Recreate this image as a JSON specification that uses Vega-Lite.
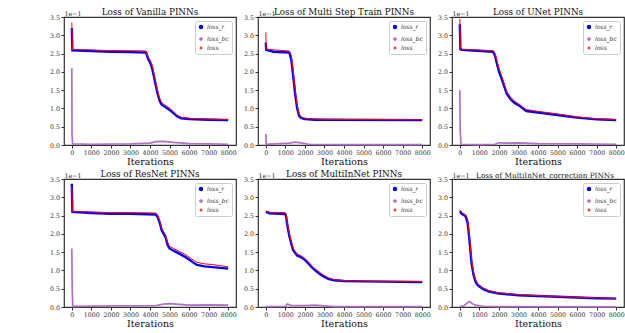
{
  "$schema": "https://vega.github.io/schema/vega-lite/v6.json",
  "padding": {"left": 47, "top": 7, "right": 0, "bottom": 0},
  "background": "white",
  "datasets": {
    "vanilla": [
      {"it": 0, "s": "loss_r", "v": 3.2}, {"it": 30, "s": "loss_r", "v": 2.59}, {"it": 1000, "s": "loss_r", "v": 2.57}, {"it": 2000, "s": "loss_r", "v": 2.55}, {"it": 3000, "s": "loss_r", "v": 2.54}, {"it": 3800, "s": "loss_r", "v": 2.53}, {"it": 3900, "s": "loss_r", "v": 2.36}, {"it": 4000, "s": "loss_r", "v": 2.26}, {"it": 4100, "s": "loss_r", "v": 2.12}, {"it": 4200, "s": "loss_r", "v": 1.88}, {"it": 4300, "s": "loss_r", "v": 1.62}, {"it": 4400, "s": "loss_r", "v": 1.38}, {"it": 4500, "s": "loss_r", "v": 1.2}, {"it": 4600, "s": "loss_r", "v": 1.1}, {"it": 4800, "s": "loss_r", "v": 1.03}, {"it": 5000, "s": "loss_r", "v": 0.96}, {"it": 5200, "s": "loss_r", "v": 0.87}, {"it": 5400, "s": "loss_r", "v": 0.78}, {"it": 5600, "s": "loss_r", "v": 0.73}, {"it": 6000, "s": "loss_r", "v": 0.71}, {"it": 7000, "s": "loss_r", "v": 0.69}, {"it": 8000, "s": "loss_r", "v": 0.68},
      {"it": 0, "s": "loss_bc", "v": 2.1}, {"it": 10, "s": "loss_bc", "v": 0.3}, {"it": 40, "s": "loss_bc", "v": 0.03}, {"it": 1000, "s": "loss_bc", "v": 0.02}, {"it": 3000, "s": "loss_bc", "v": 0.03}, {"it": 4000, "s": "loss_bc", "v": 0.05}, {"it": 4300, "s": "loss_bc", "v": 0.09}, {"it": 4700, "s": "loss_bc", "v": 0.1}, {"it": 5200, "s": "loss_bc", "v": 0.07}, {"it": 6000, "s": "loss_bc", "v": 0.04}, {"it": 7000, "s": "loss_bc", "v": 0.03}, {"it": 8000, "s": "loss_bc", "v": 0.02},
      {"it": 0, "s": "loss", "v": 3.35}, {"it": 30, "s": "loss", "v": 2.61}, {"it": 1000, "s": "loss", "v": 2.6}, {"it": 2000, "s": "loss", "v": 2.58}, {"it": 3000, "s": "loss", "v": 2.58}, {"it": 3800, "s": "loss", "v": 2.57}, {"it": 3900, "s": "loss", "v": 2.42}, {"it": 4000, "s": "loss", "v": 2.32}, {"it": 4100, "s": "loss", "v": 2.2}, {"it": 4200, "s": "loss", "v": 1.96}, {"it": 4300, "s": "loss", "v": 1.7}, {"it": 4400, "s": "loss", "v": 1.45}, {"it": 4500, "s": "loss", "v": 1.27}, {"it": 4600, "s": "loss", "v": 1.16}, {"it": 4800, "s": "loss", "v": 1.08}, {"it": 5000, "s": "loss", "v": 1.01}, {"it": 5200, "s": "loss", "v": 0.91}, {"it": 5400, "s": "loss", "v": 0.81}, {"it": 5600, "s": "loss", "v": 0.76}, {"it": 6000, "s": "loss", "v": 0.73}, {"it": 7000, "s": "loss", "v": 0.71}, {"it": 8000, "s": "loss", "v": 0.7}
    ],
    "multistep": [
      {"it": 0, "s": "loss_r", "v": 2.8}, {"it": 20, "s": "loss_r", "v": 2.6}, {"it": 400, "s": "loss_r", "v": 2.55}, {"it": 1200, "s": "loss_r", "v": 2.53}, {"it": 1300, "s": "loss_r", "v": 2.35}, {"it": 1400, "s": "loss_r", "v": 1.9}, {"it": 1500, "s": "loss_r", "v": 1.4}, {"it": 1600, "s": "loss_r", "v": 1.02}, {"it": 1700, "s": "loss_r", "v": 0.8}, {"it": 1800, "s": "loss_r", "v": 0.74}, {"it": 2000, "s": "loss_r", "v": 0.71}, {"it": 2500, "s": "loss_r", "v": 0.69}, {"it": 3000, "s": "loss_r", "v": 0.69}, {"it": 8000, "s": "loss_r", "v": 0.68},
      {"it": 0, "s": "loss_bc", "v": 0.3}, {"it": 20, "s": "loss_bc", "v": 0.02}, {"it": 500, "s": "loss_bc", "v": 0.03}, {"it": 1200, "s": "loss_bc", "v": 0.05}, {"it": 1500, "s": "loss_bc", "v": 0.08}, {"it": 1800, "s": "loss_bc", "v": 0.06}, {"it": 2200, "s": "loss_bc", "v": 0.02}, {"it": 4000, "s": "loss_bc", "v": 0.01}, {"it": 8000, "s": "loss_bc", "v": 0.01},
      {"it": 0, "s": "loss", "v": 3.08}, {"it": 20, "s": "loss", "v": 2.62}, {"it": 400, "s": "loss", "v": 2.6}, {"it": 1200, "s": "loss", "v": 2.57}, {"it": 1300, "s": "loss", "v": 2.45}, {"it": 1400, "s": "loss", "v": 2.02}, {"it": 1500, "s": "loss", "v": 1.52}, {"it": 1600, "s": "loss", "v": 1.1}, {"it": 1700, "s": "loss", "v": 0.86}, {"it": 1800, "s": "loss", "v": 0.77}, {"it": 2000, "s": "loss", "v": 0.73}, {"it": 2500, "s": "loss", "v": 0.71}, {"it": 3000, "s": "loss", "v": 0.7}, {"it": 8000, "s": "loss", "v": 0.69}
    ],
    "unet": [
      {"it": 0, "s": "loss_r", "v": 3.3}, {"it": 30, "s": "loss_r", "v": 2.62}, {"it": 100, "s": "loss_r", "v": 2.6}, {"it": 1700, "s": "loss_r", "v": 2.55}, {"it": 1800, "s": "loss_r", "v": 2.45}, {"it": 1900, "s": "loss_r", "v": 2.22}, {"it": 2000, "s": "loss_r", "v": 2.02}, {"it": 2200, "s": "loss_r", "v": 1.72}, {"it": 2400, "s": "loss_r", "v": 1.4}, {"it": 2600, "s": "loss_r", "v": 1.25}, {"it": 2800, "s": "loss_r", "v": 1.15}, {"it": 3000, "s": "loss_r", "v": 1.09}, {"it": 3200, "s": "loss_r", "v": 1.01}, {"it": 3400, "s": "loss_r", "v": 0.93}, {"it": 4000, "s": "loss_r", "v": 0.89}, {"it": 5000, "s": "loss_r", "v": 0.82}, {"it": 6000, "s": "loss_r", "v": 0.75}, {"it": 7000, "s": "loss_r", "v": 0.7}, {"it": 8000, "s": "loss_r", "v": 0.68},
      {"it": 0, "s": "loss_bc", "v": 1.5}, {"it": 20, "s": "loss_bc", "v": 0.4}, {"it": 60, "s": "loss_bc", "v": 0.02}, {"it": 1000, "s": "loss_bc", "v": 0.01}, {"it": 1800, "s": "loss_bc", "v": 0.02}, {"it": 2000, "s": "loss_bc", "v": 0.06}, {"it": 2500, "s": "loss_bc", "v": 0.05}, {"it": 3000, "s": "loss_bc", "v": 0.06}, {"it": 4000, "s": "loss_bc", "v": 0.04}, {"it": 6000, "s": "loss_bc", "v": 0.03}, {"it": 8000, "s": "loss_bc", "v": 0.02},
      {"it": 0, "s": "loss", "v": 3.45}, {"it": 30, "s": "loss", "v": 2.65}, {"it": 100, "s": "loss", "v": 2.62}, {"it": 1700, "s": "loss", "v": 2.58}, {"it": 1800, "s": "loss", "v": 2.5}, {"it": 1900, "s": "loss", "v": 2.3}, {"it": 2000, "s": "loss", "v": 2.1}, {"it": 2200, "s": "loss", "v": 1.8}, {"it": 2400, "s": "loss", "v": 1.46}, {"it": 2600, "s": "loss", "v": 1.3}, {"it": 2800, "s": "loss", "v": 1.2}, {"it": 3000, "s": "loss", "v": 1.13}, {"it": 3200, "s": "loss", "v": 1.05}, {"it": 3400, "s": "loss", "v": 0.97}, {"it": 4000, "s": "loss", "v": 0.92}, {"it": 5000, "s": "loss", "v": 0.85}, {"it": 6000, "s": "loss", "v": 0.77}, {"it": 7000, "s": "loss", "v": 0.72}, {"it": 8000, "s": "loss", "v": 0.7}
    ],
    "resnet": [
      {"it": 0, "s": "loss_r", "v": 3.37}, {"it": 30, "s": "loss_r", "v": 2.6}, {"it": 1000, "s": "loss_r", "v": 2.57}, {"it": 2000, "s": "loss_r", "v": 2.55}, {"it": 3000, "s": "loss_r", "v": 2.55}, {"it": 4300, "s": "loss_r", "v": 2.53}, {"it": 4400, "s": "loss_r", "v": 2.45}, {"it": 4500, "s": "loss_r", "v": 2.3}, {"it": 4600, "s": "loss_r", "v": 2.1}, {"it": 4700, "s": "loss_r", "v": 2.0}, {"it": 4800, "s": "loss_r", "v": 1.9}, {"it": 4900, "s": "loss_r", "v": 1.7}, {"it": 5000, "s": "loss_r", "v": 1.6}, {"it": 5200, "s": "loss_r", "v": 1.54}, {"it": 5500, "s": "loss_r", "v": 1.46}, {"it": 5800, "s": "loss_r", "v": 1.37}, {"it": 6000, "s": "loss_r", "v": 1.3}, {"it": 6200, "s": "loss_r", "v": 1.22}, {"it": 6400, "s": "loss_r", "v": 1.15}, {"it": 6800, "s": "loss_r", "v": 1.11}, {"it": 7200, "s": "loss_r", "v": 1.09}, {"it": 7600, "s": "loss_r", "v": 1.07}, {"it": 8000, "s": "loss_r", "v": 1.05},
      {"it": 0, "s": "loss_bc", "v": 1.6}, {"it": 20, "s": "loss_bc", "v": 0.5}, {"it": 50, "s": "loss_bc", "v": 0.02}, {"it": 2000, "s": "loss_bc", "v": 0.03}, {"it": 4300, "s": "loss_bc", "v": 0.04}, {"it": 4700, "s": "loss_bc", "v": 0.08}, {"it": 5000, "s": "loss_bc", "v": 0.09}, {"it": 5500, "s": "loss_bc", "v": 0.07}, {"it": 6000, "s": "loss_bc", "v": 0.05}, {"it": 7000, "s": "loss_bc", "v": 0.06}, {"it": 8000, "s": "loss_bc", "v": 0.05},
      {"it": 0, "s": "loss", "v": 3.3}, {"it": 30, "s": "loss", "v": 2.62}, {"it": 1000, "s": "loss", "v": 2.6}, {"it": 2000, "s": "loss", "v": 2.58}, {"it": 3000, "s": "loss", "v": 2.58}, {"it": 4300, "s": "loss", "v": 2.57}, {"it": 4400, "s": "loss", "v": 2.5}, {"it": 4500, "s": "loss", "v": 2.35}, {"it": 4600, "s": "loss", "v": 2.15}, {"it": 4700, "s": "loss", "v": 2.05}, {"it": 4800, "s": "loss", "v": 1.96}, {"it": 4900, "s": "loss", "v": 1.77}, {"it": 5000, "s": "loss", "v": 1.66}, {"it": 5200, "s": "loss", "v": 1.6}, {"it": 5500, "s": "loss", "v": 1.52}, {"it": 5800, "s": "loss", "v": 1.44}, {"it": 6000, "s": "loss", "v": 1.37}, {"it": 6200, "s": "loss", "v": 1.29}, {"it": 6400, "s": "loss", "v": 1.22}, {"it": 6800, "s": "loss", "v": 1.18}, {"it": 7200, "s": "loss", "v": 1.16}, {"it": 7600, "s": "loss", "v": 1.13}, {"it": 8000, "s": "loss", "v": 1.1}
    ],
    "multiinnet": [
      {"it": 0, "s": "loss_r", "v": 2.6}, {"it": 200, "s": "loss_r", "v": 2.56}, {"it": 1000, "s": "loss_r", "v": 2.54}, {"it": 1050, "s": "loss_r", "v": 2.44}, {"it": 1100, "s": "loss_r", "v": 2.24}, {"it": 1200, "s": "loss_r", "v": 1.95}, {"it": 1300, "s": "loss_r", "v": 1.74}, {"it": 1400, "s": "loss_r", "v": 1.55}, {"it": 1600, "s": "loss_r", "v": 1.41}, {"it": 1800, "s": "loss_r", "v": 1.36}, {"it": 2000, "s": "loss_r", "v": 1.29}, {"it": 2200, "s": "loss_r", "v": 1.18}, {"it": 2400, "s": "loss_r", "v": 1.06}, {"it": 2600, "s": "loss_r", "v": 0.97}, {"it": 2800, "s": "loss_r", "v": 0.89}, {"it": 3000, "s": "loss_r", "v": 0.82}, {"it": 3200, "s": "loss_r", "v": 0.77}, {"it": 3500, "s": "loss_r", "v": 0.73}, {"it": 4000, "s": "loss_r", "v": 0.71}, {"it": 5000, "s": "loss_r", "v": 0.7}, {"it": 8000, "s": "loss_r", "v": 0.68},
      {"it": 0, "s": "loss_bc", "v": 0.01}, {"it": 1000, "s": "loss_bc", "v": 0.02}, {"it": 1100, "s": "loss_bc", "v": 0.08}, {"it": 1300, "s": "loss_bc", "v": 0.04}, {"it": 2000, "s": "loss_bc", "v": 0.04}, {"it": 2500, "s": "loss_bc", "v": 0.05}, {"it": 3000, "s": "loss_bc", "v": 0.03}, {"it": 3500, "s": "loss_bc", "v": 0.01}, {"it": 8000, "s": "loss_bc", "v": 0.01},
      {"it": 0, "s": "loss", "v": 2.63}, {"it": 200, "s": "loss", "v": 2.59}, {"it": 1000, "s": "loss", "v": 2.58}, {"it": 1050, "s": "loss", "v": 2.5}, {"it": 1100, "s": "loss", "v": 2.3}, {"it": 1200, "s": "loss", "v": 2.01}, {"it": 1300, "s": "loss", "v": 1.8}, {"it": 1400, "s": "loss", "v": 1.6}, {"it": 1600, "s": "loss", "v": 1.45}, {"it": 1800, "s": "loss", "v": 1.4}, {"it": 2000, "s": "loss", "v": 1.33}, {"it": 2200, "s": "loss", "v": 1.22}, {"it": 2400, "s": "loss", "v": 1.1}, {"it": 2600, "s": "loss", "v": 1.01}, {"it": 2800, "s": "loss", "v": 0.93}, {"it": 3000, "s": "loss", "v": 0.86}, {"it": 3200, "s": "loss", "v": 0.8}, {"it": 3500, "s": "loss", "v": 0.75}, {"it": 4000, "s": "loss", "v": 0.72}, {"it": 5000, "s": "loss", "v": 0.71}, {"it": 8000, "s": "loss", "v": 0.7}
    ],
    "correction": [
      {"it": 0, "s": "loss_r", "v": 2.62}, {"it": 100, "s": "loss_r", "v": 2.55}, {"it": 300, "s": "loss_r", "v": 2.48}, {"it": 400, "s": "loss_r", "v": 2.3}, {"it": 500, "s": "loss_r", "v": 1.8}, {"it": 600, "s": "loss_r", "v": 1.2}, {"it": 700, "s": "loss_r", "v": 0.88}, {"it": 800, "s": "loss_r", "v": 0.7}, {"it": 900, "s": "loss_r", "v": 0.61}, {"it": 1000, "s": "loss_r", "v": 0.56}, {"it": 1200, "s": "loss_r", "v": 0.49}, {"it": 1500, "s": "loss_r", "v": 0.42}, {"it": 2000, "s": "loss_r", "v": 0.37}, {"it": 3000, "s": "loss_r", "v": 0.32}, {"it": 4000, "s": "loss_r", "v": 0.3}, {"it": 5000, "s": "loss_r", "v": 0.28}, {"it": 6000, "s": "loss_r", "v": 0.26}, {"it": 7000, "s": "loss_r", "v": 0.24}, {"it": 8000, "s": "loss_r", "v": 0.23},
      {"it": 0, "s": "loss_bc", "v": 0.01}, {"it": 200, "s": "loss_bc", "v": 0.03}, {"it": 400, "s": "loss_bc", "v": 0.12}, {"it": 500, "s": "loss_bc", "v": 0.15}, {"it": 600, "s": "loss_bc", "v": 0.1}, {"it": 800, "s": "loss_bc", "v": 0.05}, {"it": 1200, "s": "loss_bc", "v": 0.02}, {"it": 2000, "s": "loss_bc", "v": 0.01}, {"it": 8000, "s": "loss_bc", "v": 0.005},
      {"it": 0, "s": "loss", "v": 2.66}, {"it": 100, "s": "loss", "v": 2.58}, {"it": 300, "s": "loss", "v": 2.52}, {"it": 400, "s": "loss", "v": 2.4}, {"it": 500, "s": "loss", "v": 1.9}, {"it": 600, "s": "loss", "v": 1.3}, {"it": 700, "s": "loss", "v": 0.95}, {"it": 800, "s": "loss", "v": 0.75}, {"it": 900, "s": "loss", "v": 0.65}, {"it": 1000, "s": "loss", "v": 0.6}, {"it": 1200, "s": "loss", "v": 0.52}, {"it": 1500, "s": "loss", "v": 0.45}, {"it": 2000, "s": "loss", "v": 0.39}, {"it": 3000, "s": "loss", "v": 0.34}, {"it": 4000, "s": "loss", "v": 0.31}, {"it": 5000, "s": "loss", "v": 0.29}, {"it": 6000, "s": "loss", "v": 0.27}, {"it": 7000, "s": "loss", "v": 0.25}, {"it": 8000, "s": "loss", "v": 0.24}
    ]
  },
  "columns": 3,
  "spacing": {"row": 2, "column": 4},
  "resolve": {"scale": {"color": "independent", "strokeWidth": "independent"}, "legend": {"color": "independent"}},
  "concat": [
    {"title": "Loss of Vanilla PINNs", "data": {"name": "vanilla"}, "width": 172, "height": 128, "mark": {"type": "line"}, "encoding": {"x": {"field": "it", "type": "quantitative", "scale": {"domain": [-400, 8400], "nice": false, "zero": false}, "axis": {"values": [0, 1000, 2000, 3000, 4000, 5000, 6000, 7000, 8000], "format": "d", "title": "Iterations"}}, "y": {"field": "v", "type": "quantitative", "scale": {"domain": [0, 3.5], "nice": false}, "axis": {"values": [0, 0.5, 1, 1.5, 2, 2.5, 3, 3.5], "format": ".1f", "title": "1e−1"}}, "color": {"field": "s", "type": "nominal", "sort": ["loss_r", "loss_bc", "loss"], "scale": {"domain": ["loss_r", "loss_bc", "loss"], "range": ["#0000ff", "#b070c8", "#ff0000"]}, "legend": {"title": null}}, "strokeWidth": {"field": "s", "type": "nominal", "scale": {"domain": ["loss_r", "loss_bc", "loss"], "range": [2.4, 1, 2.4]}, "legend": null}}},
    {"title": "Loss of Multi Step Train PINNs", "data": {"name": "multistep"}, "width": 172, "height": 128, "mark": {"type": "line"}, "encoding": {"x": {"field": "it", "type": "quantitative", "scale": {"domain": [-400, 8400], "nice": false, "zero": false}, "axis": {"values": [0, 1000, 2000, 3000, 4000, 5000, 6000, 7000, 8000], "format": "d", "title": "Iterations"}}, "y": {"field": "v", "type": "quantitative", "scale": {"domain": [0, 3.5], "nice": false}, "axis": {"values": [0, 0.5, 1, 1.5, 2, 2.5, 3, 3.5], "format": ".1f", "title": "1e−1"}}, "color": {"field": "s", "type": "nominal", "sort": ["loss_r", "loss_bc", "loss"], "scale": {"domain": ["loss_r", "loss_bc", "loss"], "range": ["#0000ff", "#b070c8", "#ff0000"]}, "legend": {"title": null}}, "strokeWidth": {"field": "s", "type": "nominal", "scale": {"domain": ["loss_r", "loss_bc", "loss"], "range": [2.4, 1, 2.4]}, "legend": null}}},
    {"title": "Loss of UNet PINNs", "data": {"name": "unet"}, "width": 172, "height": 128, "mark": {"type": "line"}, "encoding": {"x": {"field": "it", "type": "quantitative", "scale": {"domain": [-400, 8400], "nice": false, "zero": false}, "axis": {"values": [0, 1000, 2000, 3000, 4000, 5000, 6000, 7000, 8000], "format": "d", "title": "Iterations"}}, "y": {"field": "v", "type": "quantitative", "scale": {"domain": [0, 3.5], "nice": false}, "axis": {"values": [0, 0.5, 1, 1.5, 2, 2.5, 3, 3.5], "format": ".1f", "title": "1e−1"}}, "color": {"field": "s", "type": "nominal", "sort": ["loss_r", "loss_bc", "loss"], "scale": {"domain": ["loss_r", "loss_bc", "loss"], "range": ["#0000ff", "#b070c8", "#ff0000"]}, "legend": {"title": null}}, "strokeWidth": {"field": "s", "type": "nominal", "scale": {"domain": ["loss_r", "loss_bc", "loss"], "range": [2.4, 1, 2.4]}, "legend": null}}},
    {"title": "Loss of ResNet PINNs", "data": {"name": "resnet"}, "width": 172, "height": 128, "mark": {"type": "line"}, "encoding": {"x": {"field": "it", "type": "quantitative", "scale": {"domain": [-400, 8400], "nice": false, "zero": false}, "axis": {"values": [0, 1000, 2000, 3000, 4000, 5000, 6000, 7000, 8000], "format": "d", "title": "Iterations"}}, "y": {"field": "v", "type": "quantitative", "scale": {"domain": [0, 3.5], "nice": false}, "axis": {"values": [0, 0.5, 1, 1.5, 2, 2.5, 3, 3.5], "format": ".1f", "title": "1e−1"}}, "color": {"field": "s", "type": "nominal", "sort": ["loss_r", "loss_bc", "loss"], "scale": {"domain": ["loss_r", "loss_bc", "loss"], "range": ["#0000ff", "#b070c8", "#ff0000"]}, "legend": {"title": null}}, "strokeWidth": {"field": "s", "type": "nominal", "scale": {"domain": ["loss_r", "loss_bc", "loss"], "range": [2.4, 1, 2.4]}, "legend": null}}},
    {"title": "Loss of MultiInNet PINNs", "data": {"name": "multiinnet"}, "width": 172, "height": 128, "mark": {"type": "line"}, "encoding": {"x": {"field": "it", "type": "quantitative", "scale": {"domain": [-400, 8400], "nice": false, "zero": false}, "axis": {"values": [0, 1000, 2000, 3000, 4000, 5000, 6000, 7000, 8000], "format": "d", "title": "Iterations"}}, "y": {"field": "v", "type": "quantitative", "scale": {"domain": [0, 3.5], "nice": false}, "axis": {"values": [0, 0.5, 1, 1.5, 2, 2.5, 3, 3.5], "format": ".1f", "title": "1e−1"}}, "color": {"field": "s", "type": "nominal", "sort": ["loss_r", "loss_bc", "loss"], "scale": {"domain": ["loss_r", "loss_bc", "loss"], "range": ["#0000ff", "#b070c8", "#ff0000"]}, "legend": {"title": null}}, "strokeWidth": {"field": "s", "type": "nominal", "scale": {"domain": ["loss_r", "loss_bc", "loss"], "range": [2.4, 1, 2.4]}, "legend": null}}},
    {"title": {"text": "Loss of MultiInNet_correction PINNs", "fontSize": 7.3, "dx": 7}, "data": {"name": "correction"}, "width": 172, "height": 128, "mark": {"type": "line"}, "encoding": {"x": {"field": "it", "type": "quantitative", "scale": {"domain": [-400, 8400], "nice": false, "zero": false}, "axis": {"values": [0, 1000, 2000, 3000, 4000, 5000, 6000, 7000, 8000], "format": "d", "title": "Iterations"}}, "y": {"field": "v", "type": "quantitative", "scale": {"domain": [0, 3.5], "nice": false}, "axis": {"values": [0, 0.5, 1, 1.5, 2, 2.5, 3, 3.5], "format": ".1f", "title": "1e−1"}}, "color": {"field": "s", "type": "nominal", "sort": ["loss_r", "loss_bc", "loss"], "scale": {"domain": ["loss_r", "loss_bc", "loss"], "range": ["#0000ff", "#b070c8", "#ff0000"]}, "legend": {"title": null}}, "strokeWidth": {"field": "s", "type": "nominal", "scale": {"domain": ["loss_r", "loss_bc", "loss"], "range": [2.4, 1, 2.4]}, "legend": null}}}
  ],
  "config": {
    "view": {"stroke": "#333333", "strokeWidth": 1.2},
    "title": {"font": "DejaVu Serif", "fontSize": 8.8, "fontWeight": "normal", "color": "#111111", "offset": -7, "anchor": "middle", "limit": 0},
    "axis": {"grid": false, "domain": false, "labelFont": "DejaVu Serif", "labelFontSize": 6.3, "labelColor": "#333333", "labelPadding": 1.5, "tickSize": 3, "tickColor": "#333333", "titleFont": "DejaVu Serif", "titleFontSize": 9.5, "titleFontWeight": "normal", "titleColor": "#111111"},
    "axisX": {"titlePadding": 0.5, "labelFlush": false, "titleFont": "DejaVu Serif", "titleFontWeight": "normal"},
    "axisY": {"titleAngle": 0, "titleX": 0, "titleY": -1, "titleAlign": "left", "titleBaseline": "bottom", "titleFontSize": 6.3, "titleColor": "#333333", "minExtent": 16, "maxExtent": 16},
    "legend": {"orient": "top-right", "offset": 4, "fillColor": "white", "strokeColor": "#cccccc", "cornerRadius": 2, "padding": 3, "labelFont": "DejaVu Sans", "labelFontStyle": "italic", "labelFontSize": 6, "labelColor": "#333333", "symbolType": "circle", "symbolSize": 4, "symbolStrokeWidth": 1.5, "rowPadding": 1, "labelOffset": 3}
  }
}
